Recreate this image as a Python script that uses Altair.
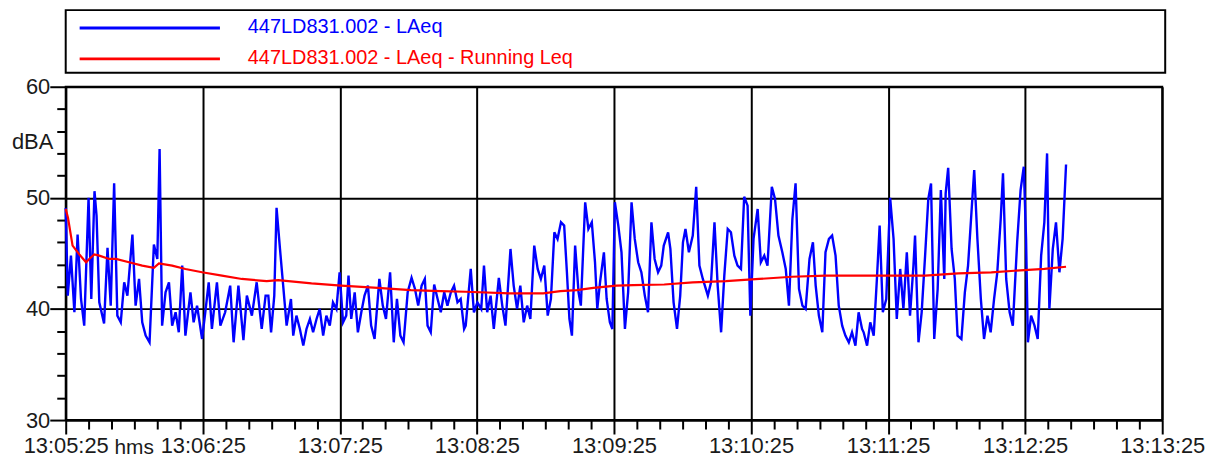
import altair as alt
import pandas as pd

# ---------------- data ----------------
tick_labels = ["13:05:25", "13:06:25", "13:07:25", "13:08:25", "13:09:25",
               "13:10:25", "13:11:25", "13:12:25", "13:13:25"]
unit_label = "hms"
series_names = ["447LD831.002 - LAeq", "447LD831.002 - LAeq - Running Leq"]
series_colors = ["#0000FF", "#FF0000"]

# seconds after 13:05:25
laeq_t = [
    0.0, 0.9, 2.3, 3.8, 5.2, 6.7, 8.1, 10.0, 11.2, 12.6, 13.5, 14.7, 16.8, 18.3, 19.7,
    21.2, 22.6, 24.1, 25.6, 27.0, 29.2, 30.6, 32.1, 33.5, 35.0, 36.7, 38.6, 40.1, 41.1,
    42.2, 43.7, 45.2, 46.6, 48.1, 49.5, 51.0, 52.4, 54.6, 56.0, 57.5, 59.7, 61.1, 62.6,
    64.0, 66.2, 67.7, 69.8, 72.0, 73.5, 75.6, 77.8, 79.3, 81.5, 83.6, 85.8, 87.5,
    88.7, 89.9, 91.3, 92.3, 93.8, 95.2, 96.7, 98.6, 99.6, 101.0, 102.5, 104.0, 105.4,
    106.9, 108.3, 109.8, 111.2, 112.7, 114.1, 115.6, 117.0, 118.5, 119.9, 121.4, 122.8,
    123.8, 125.0, 126.5, 127.9, 129.4, 130.8, 132.3, 133.7, 135.2, 137.3, 138.8, 140.2,
    142.0, 143.6, 145.0, 146.5, 147.9, 149.7, 151.4, 152.9, 154.3, 155.8, 157.2, 158.4,
    159.8, 161.3, 162.8, 164.2, 165.7, 167.1, 168.6, 170.0, 171.5, 172.9, 174.4,
    175.1, 177.3, 178.7, 180.2, 181.9, 183.1, 184.5, 186.0, 187.4, 189.6, 191.1, 192.5,
    194.7, 196.1, 197.6, 199.0, 200.5, 202.0, 203.4, 205.1, 206.6, 208.0, 209.5, 211.0,
    212.4, 213.9, 215.3, 216.8, 218.2, 219.4, 220.5, 221.6, 223.0, 224.5, 225.5, 227.4,
    228.8, 230.3, 231.7, 232.7, 233.9, 235.6, 236.8, 238.2, 239.3, 240.4, 241.9, 243.3,
    244.8, 246.2, 247.7, 249.1, 250.6, 252.0, 253.5, 254.9, 256.4, 257.8, 259.3, 260.7,
    261.8,
    263.7, 264.7, 266.1, 267.6, 269.0, 270.2, 271.3, 272.8, 274.5, 276.0, 277.4, 278.9,
    281.1, 282.5, 284.0, 285.4, 286.9, 288.3, 289.8, 291.2, 292.7, 294.1, 295.6, 297.0,
    298.5, 299.7, 301.1, 302.9, 304.3, 305.8, 307.2, 309.1, 310.5, 312.0, 313.7, 315.2,
    316.6, 318.1, 319.5, 321.0, 322.5, 323.9, 325.6, 327.1, 328.3, 329.7, 331.2, 332.6,
    334.1, 335.5, 337.0, 338.4, 339.9, 341.3, 342.8, 344.2, 345.7, 347.1, 348.6,
    349.3, 350.8, 352.2, 353.7, 355.1, 356.3, 357.7, 359.2, 360.9, 362.4, 363.8, 365.3,
    366.7, 368.2, 369.6, 371.1, 371.8, 373.3, 374.7, 376.2, 377.6, 378.8, 380.2, 381.7,
    383.1, 384.6, 385.2, 386.3, 387.8, 389.2, 390.4, 392.1, 393.6, 395.0, 396.5, 397.7,
    399.1, 400.6, 402.0, 403.5, 404.9, 406.4, 407.8, 409.3, 410.3, 411.7, 413.2, 414.6,
    416.5, 418.0, 419.4, 420.4, 421.2, 422.6, 424.1, 425.5, 427.0, 428.4, 429.6, 430.6,
    432.1, 433.5, 435.0, 436.4, 437.9,
]
laeq_v = [
    49.1, 41.2, 44.8, 39.7, 46.7, 40.9, 38.5, 50.0, 40.9, 50.6, 48.4, 40.6, 38.7, 45.5, 40.3,
    51.3, 39.4, 38.8, 42.4, 41.2, 46.7, 40.3, 42.7, 38.8, 37.6, 37.0, 45.8, 44.5, 54.4,
    38.5, 41.5, 42.4, 38.5, 39.7, 37.9, 43.9, 37.6, 41.5, 38.8, 40.3, 37.3, 39.7, 42.4,
    38.2, 42.4, 38.5, 39.7, 42.1, 37.0, 42.1, 37.2, 41.2, 39.4, 42.4, 38.2, 41.2,
    41.2, 37.9, 41.2, 49.1, 45.4, 42.1, 38.5, 40.9, 37.6, 39.4, 38.2, 36.7, 38.2,
    39.1, 37.9, 39.1, 40.0, 37.6, 39.4, 38.5, 40.6, 40.0, 43.3, 38.8, 39.4,
    43.0, 39.1, 41.5, 37.9, 39.7, 41.2, 42.1, 38.5, 37.3, 42.7, 40.3, 39.1,
    43.3, 37.0, 40.9, 37.6, 37.0, 41.5, 42.8, 41.8, 40.3, 42.1, 42.7, 38.5,
    37.9, 42.2, 40.9, 39.7, 41.5, 40.3, 41.5, 42.1, 40.6, 40.9, 38.2,
    38.5, 43.6, 39.7, 40.6, 40.0, 43.9, 39.7, 41.2, 38.2, 42.8, 40.3, 38.5,
    45.4, 42.1, 40.0, 42.1, 38.8, 40.3, 39.1, 45.7, 43.6, 42.7, 43.9, 39.4,
    40.9, 46.9, 46.3, 47.8, 47.5, 43.3, 39.1, 37.6, 45.7, 41.5, 40.3, 49.6,
    47.2, 47.8, 44.2, 40.0, 42.4, 45.1, 40.9, 38.8, 38.2, 49.6, 47.5, 45.1,
    38.2, 41.5, 49.6, 46.3, 44.2, 43.3, 41.2, 39.7, 47.8, 44.5, 43.3, 43.9,
    45.7,
    46.9, 45.4, 40.6, 38.2, 41.2, 46.0, 47.2, 45.1, 46.6, 51.0, 43.9, 42.7,
    41.2, 42.4, 47.8, 42.1, 37.9, 43.0, 47.2, 46.9, 44.8, 43.9, 43.6, 50.1,
    49.3, 39.4, 46.3, 49.0, 44.2, 44.8, 43.9, 51.0, 49.9, 46.6, 45.1, 43.6,
    40.3, 48.1, 51.3, 41.8, 40.3, 40.0, 44.5, 46.0, 42.1, 39.4, 37.9, 45.1,
    46.3, 46.6, 44.8, 40.3, 38.5, 37.6, 37.0, 37.9, 36.7, 39.7, 38.2,
    37.9, 36.7, 38.8, 37.6, 42.7, 47.5, 39.7, 40.9, 50.0, 46.3, 39.1, 43.6,
    40.0, 45.1, 39.4, 43.9, 46.6, 37.0, 39.7, 44.8, 49.9, 51.3, 37.3, 41.8,
    50.7, 42.7, 50.4, 52.7, 45.4, 42.7, 37.6, 37.3, 41.5, 43.9, 48.7, 52.5,
    46.3, 40.9, 37.3, 39.4, 37.9, 40.9, 43.3, 48.1, 52.2, 42.7, 39.7, 38.5,
    46.0, 50.7, 52.8, 46.3, 37.0, 39.4, 38.5, 37.3, 44.8, 47.8, 54.0, 40.0,
    45.4, 47.8, 43.3, 46.3, 53.0,
]

leq_t = [0, 1, 3, 6, 8.9, 10.3, 12.5, 14.7, 19, 22, 27.7, 33.5, 38.6, 40.8, 46.6, 52.4,
         59.7, 68.4, 77.1, 88, 93, 107.6, 120.6, 136.6, 151.1, 164.2, 175.1, 194.7, 209,
         216.5, 223.7, 231, 241, 248.4, 262, 274.5, 289, 303.6, 318, 332.6, 349.4, 361.6,
         376.2, 390.7, 405.2, 419.7, 428.4, 437.9]
leq_v = [49.0, 48.2, 45.7, 44.9, 44.2, 44.5, 44.9, 44.8, 44.5, 44.5, 44.2, 43.9, 43.7, 44.1,
         43.9, 43.6, 43.3, 43.0, 42.7, 42.5, 42.6, 42.3, 42.1, 41.9, 41.7, 41.6, 41.55, 41.4,
         41.4, 41.6, 41.7, 41.9, 42.1, 42.15, 42.2, 42.4, 42.5, 42.7, 42.9, 43.0, 43.0, 43.0,
         43.0, 43.2, 43.3, 43.5, 43.6, 43.8]

# ---------------- styling ----------------
FONT = "Liberation Sans"
FS = 20        # legend text
AFS = 22       # axis text
W, H = 1102, 335
MAJ_TICK_X, MIN_TICK_X = 14, 9
X_LPAD = 2

laeq_df = pd.DataFrame({"t": laeq_t, "v": laeq_v})
leq_df = pd.DataFrame({"t": leq_t, "v": leq_v})

labels_js = "[" + ",".join("'%s'" % s for s in tick_labels) + "]"

x_scale = alt.Scale(domain=[0, 480], nice=False, zero=False)
y_scale = alt.Scale(domain=[30, 60], nice=False, zero=False)

x_axis = alt.Axis(
    values=list(range(0, 481, 10)),
    tickCount=200,
    labelExpr="datum.value % 60 === 0 ? " + labels_js + "[round(datum.value / 60)] : ''",
    tickSize={"condition": {"test": "datum.value % 60 === 0", "value": MAJ_TICK_X}, "value": MIN_TICK_X},
    gridOpacity={"condition": {"test": "datum.value % 60 === 0", "value": 1}, "value": 0},
    grid=True, gridColor="black", gridWidth=2,
    domainColor="black", domainWidth=2, tickColor="black", tickWidth=2,
    labelFont=FONT, labelFontSize=AFS, labelColor="#1a1a1a", labelPadding=X_LPAD,
    labelFlush=False, labelOverlap=False, title=None,
)
y_axis = alt.Axis(
    values=list(range(30, 61, 2)),
    tickCount=200,
    format="d",
    labelExpr="datum.value % 10 === 0 ? format(datum.value, 'd') : ''",
    tickSize={"condition": {"test": "datum.value % 10 === 0", "value": 16}, "value": 9},
    gridOpacity={"condition": {"test": "datum.value % 10 === 0", "value": 1}, "value": 0},
    grid=True, gridColor="black", gridWidth=2,
    domainColor="black", domainWidth=2, tickColor="black", tickWidth=2,
    labelFont=FONT, labelFontSize=AFS, labelColor="#1a1a1a", labelPadding=0,
    labelFlush=False, labelOverlap=False,
    title="dBA", titleAngle=0, titleAlign="right", titleBaseline="alphabetic",
    titleX=-13, titleY=62, titleFont=FONT, titleFontSize=AFS, titleFontWeight="normal",
    titleColor="#1a1a1a",
)

blue = alt.Chart(laeq_df).mark_line(strokeWidth=2.4, color=series_colors[0]).encode(
    x=alt.X("t:Q", scale=x_scale, axis=x_axis),
    y=alt.Y("v:Q", scale=y_scale, axis=y_axis),
)
red = alt.Chart(leq_df).mark_line(strokeWidth=2.2, color=series_colors[1]).encode(
    x=alt.X("t:Q", scale=x_scale, axis=x_axis),
    y=alt.Y("v:Q", scale=y_scale, axis=y_axis),
)
hms = alt.Chart(pd.DataFrame({"t": [0], "txt": [unit_label]})).mark_text(
    align="left", baseline="top", dx=49, font=FONT, fontSize=21, color="#1a1a1a"
).encode(
    x=alt.X("t:Q", scale=x_scale, axis=x_axis),
    y=alt.value(H + MAJ_TICK_X + X_LPAD + 1),
    text="txt:N",
)
main = alt.layer(blue, red, hms).properties(width=W, height=H)

leg_df = pd.DataFrame({"name": series_names, "color": series_colors})
leg_y = alt.Y("name:N", scale=alt.Scale(type="point", domain=series_names, range=[18, 49], padding=0), axis=None)
leg_rules = alt.Chart(leg_df).mark_rule(strokeWidth=3).encode(
    x=alt.value(14), x2=alt.value(155), y=leg_y,
    color=alt.Color("color:N", scale=None, legend=None),
)
leg_text = alt.Chart(leg_df).mark_text(
    align="left", baseline="alphabetic", dy=5, font=FONT, fontSize=FS
).encode(
    x=alt.value(183), y=leg_y, text="name:N",
    color=alt.Color("color:N", scale=None, legend=None),
)
legend = alt.layer(leg_rules, leg_text).properties(width=1105, height=63)

chart = alt.vconcat(legend, main, spacing=14, bounds="flush").properties(
    padding={"left": 2, "top": 0, "right": 0, "bottom": 0}
).configure_view(stroke="black", strokeWidth=2)

chart.save("out.html", embed_options={"renderer": "svg", "actions": False})
